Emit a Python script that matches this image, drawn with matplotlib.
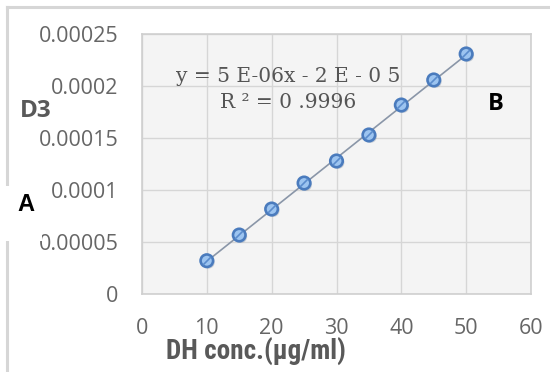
import numpy as np
import matplotlib
matplotlib.use("Agg")
import matplotlib.pyplot as plt
from matplotlib.lines import Line2D
from matplotlib.patches import Rectangle
from matplotlib.markers import MarkerStyle
from matplotlib.transforms import Affine2D
import matplotlib.patheffects as pe

# Calibration data
conc = [10, 15, 20, 25, 30, 35, 40, 45, 50]
absorb = [3.2e-5, 5.67e-5, 8.17e-5, 1.067e-4, 1.279e-4, 1.529e-4, 1.817e-4, 2.058e-4, 2.308e-4]

x_ticks = [0, 10, 20, 30, 40, 50, 60]
y_ticks = [0, 0.00005, 0.0001, 0.00015, 0.0002, 0.00025]
y_tick_labels = ["0", "0.00005", "0.0001", "0.00015", "0.0002", "0.00025"]

eq_line1 = "y = 5 E-06x - 2 E - 0 5"
eq_line2 = "R ² = 0 .9996"
x_title = "DH conc.(µg/ml)"
y_title = "D3"

W, H = 550, 372
fig = plt.figure(figsize=(W / 100, H / 100), dpi=100)
fig.patch.set_facecolor("white")

def fx(px):
    return px / W

def fy(py):
    return 1 - py / H

ax = fig.add_axes([fx(142), fy(294), fx(531) - fx(142), fy(34) - fy(294)])
ax.set_facecolor("#f4f4f4")
ax.set_xlim(0, 60)
ax.set_ylim(0, 0.00025)
ax.set_xticks(x_ticks)
ax.set_yticks(y_ticks)
ax.set_yticklabels(y_tick_labels)
ax.grid(True, color="#d6d6d6", linewidth=1.0)
ax.set_axisbelow(True)
for s in ax.spines.values():
    s.set_color("#cfcfcf")
    s.set_linewidth(1.2)
ax.tick_params(length=0, colors="#666666", labelsize=15.5)
ax.tick_params(axis="y", pad=17)
ax.tick_params(axis="x", pad=17)
for lab in ax.get_xticklabels() + ax.get_yticklabels():
    lab.set_fontfamily("Open Sans")
    lab.set_color("#666666")

# Linear trendline
coef = np.polyfit(conc, absorb, 1)
xt = np.array([min(conc), max(conc)])
ax.plot(xt, np.polyval(coef, xt), color="#8a96a8", linewidth=1.2, zorder=2)

# Markers with shadow
ax.plot(conc, absorb, linestyle="none", marker="o", markersize=9,
        markerfacecolor="#9cc4f0", markeredgecolor="#4a7bbd", markeredgewidth=1.9,
        zorder=3,
        path_effects=[pe.SimplePatchShadow(offset=(1.2, -1.2), shadow_rgbFace="#7a8aa0", alpha=0.35),
                      pe.Normal()])
stripe = MarkerStyle("_", transform=Affine2D().rotate_deg(45))
ax.plot(conc, absorb, linestyle="none", marker=stripe, markersize=7.5,
        markeredgecolor="#5a8ccc", markeredgewidth=1.2, zorder=4)

# Equation text
ax.text(fx(288), fy(76), eq_line1, transform=fig.transFigure, ha="center", va="center",
        fontsize=14.5, family="DejaVu Serif", color="#555555", zorder=5)
ax.text(fx(288), fy(103), eq_line2, transform=fig.transFigure, ha="center", va="center",
        fontsize=14.5, family="DejaVu Serif", color="#555555", zorder=5)

# Chart border
fig.add_artist(Line2D([fx(7), fx(7)], [fy(7), fy(H + 5)], color="#d6d6d6", linewidth=2.2))
fig.add_artist(Line2D([fx(7), fx(W + 5)], [fy(7), fy(7)], color="#d6d6d6", linewidth=2.2))

# Axis titles
fig.text(fx(36), fy(111), y_title, ha="center", va="center", fontsize=17.5,
         fontweight="bold", family="Open Sans", color="#595959")
fig.text(fx(256), fy(352), x_title, ha="center", va="center", fontsize=19.5,
         fontweight="bold", family=["Roboto Condensed", "Roboto"],
         color="#595959")

# Panel letters
fig.add_artist(Rectangle((0, fy(241)), fx(42), fy(186) - fy(241), transform=fig.transFigure,
                         facecolor="white", edgecolor="none", zorder=10))
fig.text(fx(26), fy(205), "A", ha="center", va="center", fontsize=17,
         fontweight="bold", family="Liberation Sans", color="black", zorder=11)
fig.text(fx(496), fy(104), "B", ha="center", va="center", fontsize=17,
         fontweight="bold", family="Open Sans", color="black")

fig.savefig("out.png", dpi=100)
